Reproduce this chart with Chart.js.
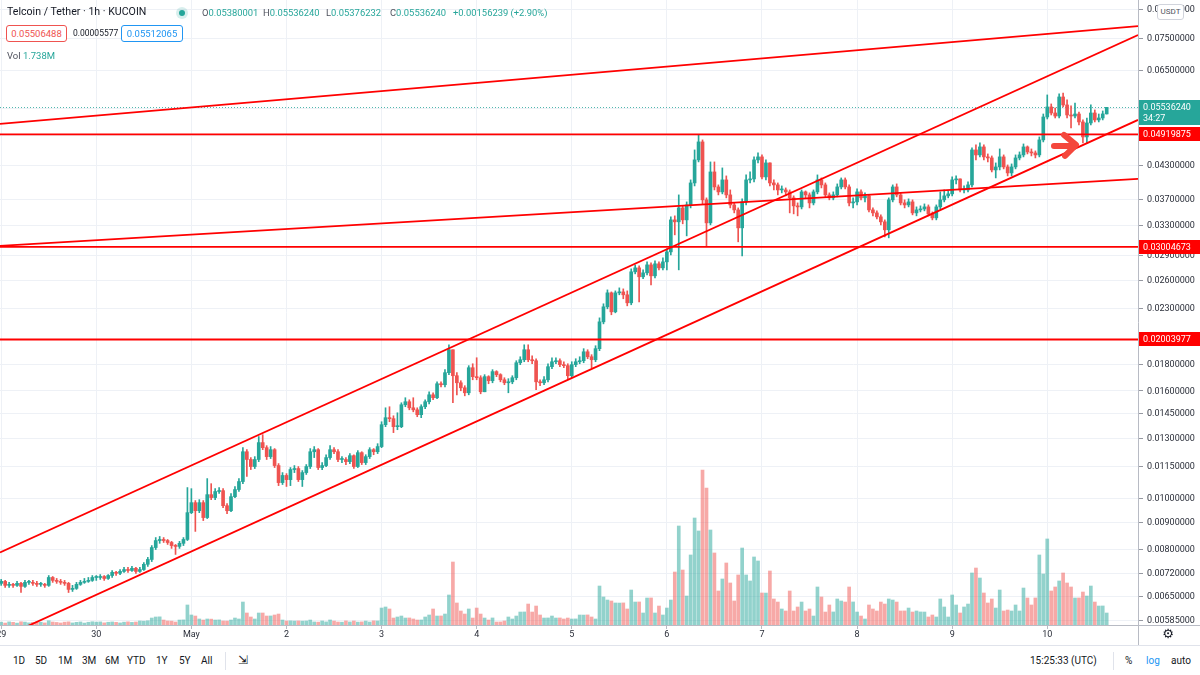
<!DOCTYPE html>
<html>
<head>
<meta charset="utf-8">
<script src="https://cdn.jsdelivr.net/npm/chart.js@4.4.1/dist/chart.umd.min.js"></script>
<style>
  html, body { margin: 0; padding: 0; background: #fff; }
  body { width: 1200px; height: 675px; position: relative; overflow: hidden; font-family: Roboto, "Noto Sans", sans-serif; color: #131722; }
  #wrap { position: absolute; left: 0; top: 0; width: 1200px; height: 645px; }
  .abs { position: absolute; white-space: nowrap; line-height: 1; }
  .g { color: #26a69a; }
  .lbl { color: #50535e; }
  .bx { position: absolute; height: 15px; line-height: 15px; border-radius: 3px; font-size: 9.5px; text-align: center; background: #fff; }
  #toolbar { position: absolute; left: 0; top: 645px; width: 1200px; height: 30px; border-top: 1px solid #e0e3eb; font-size: 10px; }
  #toolbar span { position: absolute; top: 10px; line-height: 1; }
</style>
</head>
<body>
<div id="wrap"><canvas id="chart"></canvas></div>

<div class="abs" style="left:7px;top:7px;font-size:10.6px;color:#131722;">Telcoin / Tether · 1h · KUCOIN</div>
<div class="abs" style="left:176px;top:7px;width:12px;height:12px;border-radius:6px;background:rgba(38,166,154,0.18);"></div>
<div class="abs" style="left:179px;top:10px;width:6px;height:6px;border-radius:3px;background:#26a69a;"></div>
<div id="ohlc"></div>
<div class="bx" id="bid" style="left:6px;top:25px;width:59px;border:1px solid #ef5350;color:#ef5350;"></div>
<div class="abs" id="spread" style="left:73px;top:29px;font-size:8.5px;color:#131722;"></div>
<div class="bx" id="ask" style="left:121px;top:25px;width:60px;border:1px solid #2196f3;color:#2196f3;"></div>
<div class="abs" style="left:7px;top:51px;font-size:9.5px;"><span class="lbl">Vol</span> <span class="g" id="vol"></span></div>
<div class="abs" style="left:1157px;top:4px;width:25px;height:14px;line-height:14px;border:1px solid #d1d4dc;border-radius:3px;background:#fff;font-size:8px;color:#50535e;text-align:center;">USDT</div>

<div id="toolbar">
  <span style="left:13px">1D</span><span style="left:35px">5D</span><span style="left:58px">1M</span>
  <span style="left:82px">3M</span><span style="left:105px">6M</span><span style="left:127px">YTD</span>
  <span style="left:156px">1Y</span><span style="left:179px">5Y</span><span style="left:201px">All</span>
  <span style="left:225px;top:6px;width:1px;height:18px;background:#e0e3eb;"></span>
  <span style="left:238px;top:8px;font-size:12px;">⇲</span>
  <span style="left:1030px">15:25:33 (UTC)</span>
  <span style="left:1113px;top:6px;width:1px;height:18px;background:#e0e3eb;"></span>
  <span style="left:1125px">%</span><span style="left:1146px;color:#2196f3">log</span><span style="left:1171px">auto</span>
</div>

<script>
// ---- data (1h candles, TEL/USDT, from 29 Apr 00:00) ----
const DAY_LABELS = ['29', '30', 'May', '2', '3', '4', '5', '6', '7', '8', '9', '10'];
const FIRST_OPEN = 0.00689;

const CLOSE = [
  0.00695,0.00683,0.00686,0.00683,0.00689,0.00680,0.00692,0.00692,0.00689,0.00686,0.00686,0.00683,0.00707,0.00698,0.00695,0.00692,0.00689,0.00671,0.00674,0.00686,0.00692,0.00695,0.00698,0.00707,
  0.00707,0.00710,0.00704,0.00713,0.00723,0.00720,0.00726,0.00732,0.00729,0.00736,0.00726,0.00732,0.00749,0.00765,0.00806,0.00831,0.00835,0.00831,0.00824,0.00813,0.00810,0.00821,0.00835,0.00939,
  0.00981,0.00947,0.00981,0.00919,0.01016,0.01003,0.01030,0.01034,0.00968,0.00947,0.01007,0.01039,0.01076,0.01226,0.01185,0.01149,0.01185,0.01276,0.01248,0.01200,0.01237,0.01154,0.01071,0.01105,
  0.01085,0.01134,0.01139,0.01085,0.01119,0.01149,0.01226,0.01237,0.01144,0.01154,0.01195,0.01237,0.01226,0.01185,0.01185,0.01174,0.01205,0.01149,0.01221,0.01169,0.01200,0.01237,0.01226,0.01254,
  0.01380,0.01423,0.01417,0.01368,0.01368,0.01506,0.01526,0.01486,0.01473,0.01442,0.01493,0.01526,0.01573,0.01553,0.01651,0.01644,0.01733,0.01916,0.01710,0.01658,0.01622,0.01587,0.01771,0.01703,
  0.01695,0.01594,0.01703,0.01673,0.01741,0.01718,0.01680,0.01658,0.01665,0.01695,0.01810,0.01834,0.01916,0.01834,0.01826,0.01665,0.01658,0.01680,0.01779,0.01818,0.01826,0.01795,0.01787,0.01710,
  0.01795,0.01818,0.01826,0.01899,0.01858,0.01834,0.01925,0.02165,0.02312,0.02458,0.02262,0.02458,0.02468,0.02437,0.02353,0.02695,0.02742,0.02637,0.02683,0.02778,0.02648,0.02791,0.02742,0.02815,
  0.02941,0.03383,0.03354,0.03565,0.03383,0.03612,0.03977,0.04399,0.04759,0.03693,0.03339,0.04173,0.03908,0.03824,0.04030,0.03774,0.03612,0.03534,0.03267,0.03660,0.04030,0.04047,0.04399,0.04457,
  0.04083,0.04341,0.03977,0.03943,0.03857,0.03857,0.03824,0.03725,0.03597,0.03581,0.03824,0.03774,0.03644,0.03824,0.04030,0.03943,0.03774,0.03725,0.03774,0.03908,0.04030,0.03908,0.03644,0.03660,
  0.03824,0.03725,0.03758,0.03534,0.03488,0.03428,0.03354,0.03239,0.03693,0.03908,0.03774,0.03644,0.03612,0.03660,0.03488,0.03534,0.03549,0.03581,0.03473,0.03413,0.03581,0.03693,0.03758,0.03791,
  0.04030,0.04047,0.03857,0.03857,0.03943,0.04595,0.04496,0.04656,0.04457,0.04437,0.04210,0.04266,0.04457,0.04266,0.04155,0.04266,0.04437,0.04496,0.04656,0.04555,0.04535,0.04496,0.04801,0.05308,
  0.05546,0.05402,0.05331,0.05794,0.05595,0.05355,0.05331,0.05378,0.05194,0.04864,0.05171,0.05402,0.05240,0.05285,0.05380001,0.05536240
];

const HIGH = [
  0.00701,0.00698,0.00692,0.00689,0.00695,0.00692,0.00698,0.00698,0.00698,0.00695,0.00692,0.00689,0.00713,0.00710,0.00704,0.00701,0.00698,0.00692,0.00683,0.00692,0.00698,0.00704,0.00707,0.00713,
  0.00713,0.00716,0.00713,0.00716,0.00729,0.00726,0.00732,0.00739,0.00739,0.00742,0.00739,0.00739,0.00755,0.00772,0.00813,0.00842,0.00846,0.00842,0.00835,0.00828,0.00817,0.00828,0.00842,0.01048,
  0.01043,0.00990,0.00994,0.00990,0.01090,0.01066,0.01043,0.01048,0.01043,0.00977,0.01021,0.01053,0.01090,0.01248,0.01237,0.01195,0.01200,0.01310,0.01321,0.01259,0.01254,0.01243,0.01164,0.01119,
  0.01114,0.01144,0.01154,0.01149,0.01129,0.01159,0.01243,0.01254,0.01243,0.01169,0.01210,0.01259,0.01248,0.01237,0.01200,0.01195,0.01216,0.01210,0.01232,0.01226,0.01210,0.01248,0.01243,0.01270,
  0.01398,0.01486,0.01493,0.01435,0.01454,0.01519,0.01553,0.01539,0.01553,0.01486,0.01506,0.01539,0.01594,0.01587,0.01665,0.01665,0.01756,0.01958,0.01916,0.01733,0.01673,0.01637,0.01787,0.01802,
  0.01850,0.01710,0.01718,0.01710,0.01756,0.01748,0.01725,0.01695,0.01688,0.01710,0.01826,0.01858,0.01958,0.01958,0.01866,0.01842,0.01680,0.01703,0.01802,0.01850,0.01850,0.01842,0.01818,0.01802,
  0.01818,0.01842,0.01858,0.01925,0.01916,0.01875,0.01950,0.02203,0.02343,0.02490,0.02468,0.02479,0.02512,0.02501,0.02479,0.02730,0.02778,0.02766,0.02718,0.02815,0.02803,0.02828,0.02815,0.02865,
  0.02980,0.03428,0.03443,0.03774,0.03597,0.03660,0.04030,0.04595,0.04907,0.04801,0.03725,0.04360,0.04360,0.03943,0.04247,0.04101,0.03857,0.03644,0.03565,0.03709,0.04119,0.04173,0.04457,0.04535,
  0.04496,0.04399,0.04341,0.04030,0.03977,0.03925,0.03891,0.03857,0.03758,0.03644,0.03857,0.03840,0.03807,0.03857,0.04119,0.04065,0.03977,0.03807,0.03824,0.03960,0.04065,0.04065,0.03943,0.03725,
  0.03874,0.03857,0.03807,0.03774,0.03565,0.03519,0.03458,0.03383,0.03725,0.03943,0.03960,0.03807,0.03693,0.03709,0.03693,0.03581,0.03597,0.03628,0.03612,0.03503,0.03612,0.03824,0.03857,0.03840,
  0.04083,0.04101,0.04047,0.03925,0.03995,0.04635,0.04697,0.04738,0.04697,0.04515,0.04476,0.04341,0.04615,0.04496,0.04303,0.04322,0.04496,0.04555,0.04717,0.04676,0.04615,0.04575,0.04864,0.05378,
  0.05846,0.05620,0.05522,0.05871,0.05896,0.05720,0.05571,0.05644,0.05426,0.05240,0.05285,0.05595,0.05474,0.05378,0.05450,0.05536240
];

const LOW = [
  0.00683,0.00677,0.00677,0.00677,0.00680,0.00662,0.00677,0.00686,0.00683,0.00680,0.00680,0.00677,0.00680,0.00692,0.00689,0.00686,0.00683,0.00662,0.00665,0.00671,0.00683,0.00689,0.00692,0.00695,
  0.00698,0.00701,0.00698,0.00701,0.00707,0.00713,0.00716,0.00723,0.00723,0.00726,0.00720,0.00723,0.00729,0.00742,0.00758,0.00799,0.00821,0.00824,0.00817,0.00803,0.00782,0.00803,0.00813,0.00831,
  0.00935,0.00865,0.00939,0.00907,0.00915,0.00994,0.00994,0.01021,0.00960,0.00935,0.00943,0.01003,0.01030,0.01066,0.01100,0.01134,0.01139,0.01174,0.01237,0.01185,0.01190,0.01144,0.01057,0.01062,
  0.01053,0.01057,0.01119,0.01076,0.01053,0.01110,0.01139,0.01195,0.01134,0.01134,0.01149,0.01185,0.01216,0.01174,0.01169,0.01159,0.01164,0.01139,0.01144,0.01159,0.01159,0.01190,0.01210,0.01216,
  0.01248,0.01368,0.01398,0.01333,0.01350,0.01362,0.01493,0.01473,0.01460,0.01429,0.01423,0.01480,0.01512,0.01539,0.01546,0.01629,0.01629,0.01718,0.01519,0.01573,0.01601,0.01566,0.01573,0.01680,
  0.01680,0.01580,0.01594,0.01651,0.01658,0.01703,0.01665,0.01644,0.01587,0.01651,0.01680,0.01795,0.01818,0.01818,0.01802,0.01608,0.01637,0.01644,0.01665,0.01763,0.01802,0.01779,0.01771,0.01680,
  0.01695,0.01779,0.01802,0.01810,0.01842,0.01771,0.01818,0.01908,0.02146,0.02292,0.02233,0.02252,0.02437,0.02395,0.02322,0.02333,0.02671,0.02363,0.02614,0.02660,0.02545,0.02625,0.02718,0.02718,
  0.02718,0.02903,0.03168,0.02718,0.03325,0.03154,0.03565,0.03925,0.04360,0.03628,0.03019,0.03310,0.03857,0.03774,0.03791,0.03725,0.03565,0.03488,0.03073,0.02890,0.03612,0.03977,0.03995,0.04341,
  0.04047,0.04030,0.03925,0.03857,0.03774,0.03807,0.03758,0.03488,0.03473,0.03443,0.03549,0.03725,0.03565,0.03612,0.03791,0.03891,0.03742,0.03693,0.03693,0.03742,0.03874,0.03874,0.03597,0.03565,
  0.03612,0.03693,0.03660,0.03503,0.03443,0.03398,0.03310,0.03140,0.03127,0.03660,0.03742,0.03612,0.03565,0.03581,0.03458,0.03443,0.03503,0.03519,0.03443,0.03383,0.03383,0.03549,0.03660,0.03725,
  0.03758,0.03960,0.03824,0.03807,0.03824,0.03908,0.04399,0.04457,0.04399,0.04360,0.04173,0.04065,0.04210,0.04229,0.04101,0.04101,0.04229,0.04399,0.04457,0.04515,0.04476,0.04437,0.04457,0.04759,
  0.05262,0.05355,0.05285,0.05285,0.05546,0.05285,0.05059,0.05285,0.05126,0.04738,0.04738,0.05126,0.05194,0.05194,0.05240,0.05376232
];

// volume in millions of TEL
const VOLUME_M = [
  0.41,0.28,0.45,0.39,0.27,0.47,0.42,0.31,0.38,0.44,0.40,0.30,0.61,0.43,0.37,0.29,0.41,0.46,0.30,0.39,0.44,0.28,0.40,0.47,
  0.42,0.45,0.31,0.40,0.44,0.39,0.30,0.41,0.46,0.38,0.43,0.58,0.55,0.61,1.01,1.16,1.18,0.72,0.58,0.56,0.43,0.72,0.74,2.90,
  1.45,1.30,0.87,0.72,0.87,0.85,0.72,0.74,0.58,0.57,0.72,1.01,0.87,3.33,1.74,1.16,0.87,1.74,1.74,1.30,1.31,1.45,1.59,0.72,
  0.58,0.60,0.57,0.59,0.56,0.58,0.72,0.44,0.42,0.58,0.45,0.73,0.57,0.43,0.41,0.59,0.44,0.58,0.42,0.45,0.57,0.43,0.60,0.58,
  2.46,2.61,2.32,1.01,1.16,1.30,1.01,1.02,0.87,0.72,0.73,1.16,1.45,2.32,1.30,1.31,1.59,4.35,9.13,3.19,2.03,1.59,2.32,1.01,
  2.46,1.59,1.01,0.72,1.02,0.43,0.44,0.58,1.16,0.87,1.30,1.88,1.89,3.04,1.88,2.75,1.45,1.01,1.02,1.30,1.01,1.02,0.87,1.01,
  0.87,0.88,1.45,1.44,1.46,1.16,0.87,5.65,4.06,3.62,3.48,3.19,3.18,3.20,2.32,5.07,3.33,3.34,1.74,3.91,3.92,1.74,2.75,1.45,
  2.46,3.62,7.68,14.35,7.97,4.20,10.15,15.51,13.63,22.47,19.86,13.77,10.44,4.93,6.67,8.99,6.09,3.48,7.25,11.16,7.25,6.38,9.86,9.28,
  4.64,4.63,7.83,3.77,3.33,2.32,2.03,4.93,2.03,2.61,3.33,2.03,2.32,1.30,5.51,4.06,1.88,2.90,1.89,3.77,3.48,3.33,5.51,3.34,
  1.88,1.30,0.87,2.90,2.32,2.03,3.33,3.04,3.77,3.62,3.33,2.03,2.04,2.46,1.88,2.03,1.89,1.88,1.16,1.45,1.16,3.77,2.61,1.16,
  4.35,2.90,1.74,2.61,3.04,7.54,8.26,6.81,4.64,3.19,3.77,2.46,5.07,2.03,2.17,2.03,2.90,2.03,5.36,3.91,2.90,3.92,10.15,7.39,
  12.47,4.93,5.51,6.38,7.54,6.09,5.51,3.91,3.92,4.78,4.20,5.65,3.33,2.75,2.76,1.738
];

const PRICE_TICKS = [0.00585, 0.0065, 0.0072, 0.008, 0.009, 0.01, 0.0115, 0.013, 0.0145, 0.016, 0.018, 0.02,
  0.023, 0.026, 0.029, 0.033, 0.037, 0.043, 0.049, 0.055, 0.065, 0.075, 0.085];
const LEVELS = [0.04919875, 0.03004673, 0.02003977];
// sloped trend lines: price at the left edge and at the right edge of the pane
const TREND_FROM = [0.05148, 0.00789, 0.005408, 0.03019];
const TREND_TO = [0.07904, 0.07599, 0.05240, 0.04047];
const X_RANGE = [-0.3, 286.9];
const Y_RANGE = [0.005742, 0.08858];
const VOL_MAX = 90.6;
const ARROW_AT = [271.5, 0.04697];
const BID = '0.05506488', SPREAD = '0.00005577', ASK = '0.05512065', COUNTDOWN = '34:27';

const UP = '#26a69a', DOWN = '#ef5350', LINE_RED = '#ff0000';
const OPEN = CLOSE.map((c, i) => i === 0 ? FIRST_OPEN : CLOSE[i - 1]);
const isUp = CLOSE.map((c, i) => c >= OPEN[i]);
const last = CLOSE.length - 1;

// header texts
const fmt = v => v.toFixed(8);
const chg = CLOSE[last] - OPEN[last];
const groups = [
  ['O', fmt(OPEN[last]), 202], ['H', fmt(HIGH[last]), 263], ['L', fmt(LOW[last]), 326], ['C', fmt(CLOSE[last]), 390],
  ['', (chg >= 0 ? '+' : '') + chg.toFixed(8) + ' (' + (chg >= 0 ? '+' : '') + (chg / OPEN[last] * 100).toFixed(2) + '%)', 453]
];
document.getElementById('ohlc').innerHTML = groups.map(g =>
  `<div class="abs" style="left:${g[2]}px;top:8px;font-size:9.4px;"><span class="lbl">${g[0]}</span><span class="g">${g[1]}</span></div>`).join('');
document.getElementById('bid').textContent = BID;
document.getElementById('spread').textContent = SPREAD;
document.getElementById('ask').textContent = ASK;
document.getElementById('vol').textContent = VOLUME_M[last].toFixed(3) + 'M';

const overlay = {
  id: 'overlay',
  beforeDatasetsDraw(chart) {
    const { ctx, chartArea: a, scales: { y } } = chart;
    const py = Math.round(y.getPixelForValue(CLOSE[last])) + 0.5;
    ctx.save();
    ctx.strokeStyle = 'rgba(38,166,154,0.8)';
    ctx.lineWidth = 1;
    ctx.setLineDash([1, 2]);
    ctx.beginPath(); ctx.moveTo(a.left, py); ctx.lineTo(a.right, py); ctx.stroke();
    ctx.restore();
  },
  afterDatasetsDraw(chart) {
    const { ctx, scales: { x, y } } = chart;
    const tx = x.getPixelForValue(ARROW_AT[0]), ty = y.getPixelForValue(ARROW_AT[1]);
    ctx.save();
    ctx.strokeStyle = '#f4473c';
    ctx.lineWidth = 6;
    ctx.lineCap = 'round';
    ctx.lineJoin = 'round';
    ctx.beginPath(); ctx.moveTo(tx - 23, ty + 1); ctx.lineTo(tx - 3, ty + 1); ctx.stroke();
    ctx.beginPath(); ctx.moveTo(tx - 13, ty - 10); ctx.lineTo(tx - 1, ty); ctx.lineTo(tx - 12, ty + 11); ctx.stroke();
    ctx.restore();
  },
  afterDraw(chart) {
    const { ctx, chartArea: a, scales: { x, y } } = chart;
    ctx.save();
    // pane borders
    ctx.strokeStyle = '#b8bbc4';
    ctx.lineWidth = 1;
    ctx.beginPath();
    ctx.moveTo(0, a.bottom + 0.5); ctx.lineTo(1200, a.bottom + 0.5);
    ctx.moveTo(a.right + 0.5, 0); ctx.lineTo(a.right + 0.5, 645);
    ctx.stroke();
    // price axis labels
    ctx.font = '9px Roboto';
    ctx.fillStyle = '#2a2e39';
    ctx.textBaseline = 'middle';
    ctx.textAlign = 'left';
    PRICE_TICKS.forEach(v => ctx.fillText(fmt(v), a.right + 9, y.getPixelForValue(v) + 0.5));
    // time axis labels
    ctx.textAlign = 'center';
    DAY_LABELS.forEach((t, i) => ctx.fillText(t, x.getPixelForValue(i * 24), a.bottom + 10));
    // horizontal level labels
    ctx.textAlign = 'left';
    LEVELS.forEach(v => {
      const py = y.getPixelForValue(v);
      ctx.fillStyle = LINE_RED;
      ctx.fillRect(a.right + 1, Math.round(py) - 7, 62, 14);
      ctx.fillStyle = '#fff';
      ctx.fillText(fmt(v), a.right + 5, py + 0.5);
    });
    // last price label
    const lp = y.getPixelForValue(CLOSE[last]);
    ctx.fillStyle = UP;
    ctx.fillRect(a.right + 1, Math.round(lp) - 7, 62, 25);
    ctx.fillStyle = '#fff';
    ctx.fillText(fmt(CLOSE[last]), a.right + 5, lp + 0.5);
    ctx.fillText(COUNTDOWN, a.right + 5, lp + 11);
    // settings gear
    ctx.fillStyle = '#131722';
    ctx.textAlign = 'center';
    ctx.font = '13px "DejaVu Sans"';
    ctx.fillText('\u2699', 1168, a.bottom + 10);
    ctx.restore();
  }
};

const idx = CLOSE.map((c, i) => i);
const trendSets = TREND_FROM.map((v, i) => ({
  type: 'line', order: 0, yAxisID: 'y',
  data: [{ x: X_RANGE[0], y: v }, { x: X_RANGE[1], y: TREND_TO[i] }],
  borderColor: LINE_RED, borderWidth: 1.8, pointRadius: 0, fill: false
}));
const levelSets = LEVELS.map(v => ({
  type: 'line', order: 0, yAxisID: 'y',
  data: [{ x: X_RANGE[0], y: v }, { x: X_RANGE[1], y: v }],
  borderColor: LINE_RED, borderWidth: 1.8, pointRadius: 0, fill: false
}));

new Chart(document.getElementById('chart'), {
  type: 'bar',
  data: {
    datasets: [
      {
        label: 'Volume', order: 3, yAxisID: 'yv',
        data: idx.map(i => ({ x: i, y: VOLUME_M[i] })),
        backgroundColor: idx.map(i => isUp[i] ? 'rgba(38,166,154,0.5)' : 'rgba(239,83,80,0.5)'),
        barThickness: 3, grouped: false
      },
      {
        label: 'Wick', order: 2, yAxisID: 'y',
        data: idx.map(i => ({ x: i, y: [LOW[i], HIGH[i]] })),
        backgroundColor: idx.map(i => isUp[i] ? UP : DOWN),
        barThickness: 1, grouped: false
      },
      {
        label: 'Body', order: 1, yAxisID: 'y',
        data: idx.map(i => ({ x: i, y: [OPEN[i], CLOSE[i]] })),
        backgroundColor: idx.map(i => isUp[i] ? UP : DOWN),
        barThickness: 3, minBarLength: 1, grouped: false
      },
      ...trendSets,
      ...levelSets
    ]
  },
  options: {
    responsive: true,
    maintainAspectRatio: false,
    animation: false,
    events: [],
    layout: { padding: 0 },
    plugins: { legend: { display: false }, tooltip: { enabled: false } },
    scales: {
      x: {
        type: 'linear', min: X_RANGE[0], max: X_RANGE[1], bounds: 'data', offset: false,
        afterBuildTicks: s => { s.ticks = DAY_LABELS.map((t, i) => ({ value: i * 24 })); },
        afterFit: s => { s.height = 20; },
        ticks: { display: false },
        grid: { color: '#eef1f6', tickLength: 4, tickColor: '#b8bbc4', offset: false },
        border: { display: false }
      },
      y: {
        type: 'logarithmic', position: 'right', min: Y_RANGE[0], max: Y_RANGE[1], bounds: 'data',
        afterBuildTicks: s => { s.ticks = PRICE_TICKS.map(v => ({ value: v })); },
        afterFit: s => { s.width = 62; },
        ticks: { display: false },
        grid: { color: '#eef1f6', tickLength: 5, tickColor: '#9598a1' },
        border: { display: false }
      },
      yv: { type: 'linear', display: false, min: 0, max: VOL_MAX }
    }
  },
  plugins: [overlay]
});
</script>
</body>
</html>
